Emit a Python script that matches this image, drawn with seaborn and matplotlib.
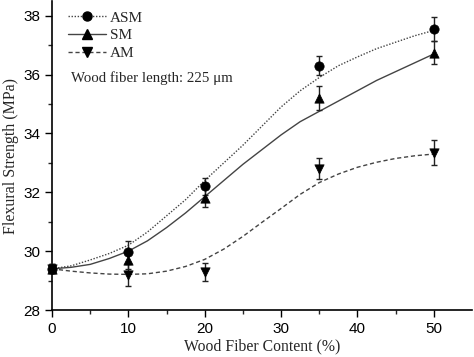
import numpy as np
import pandas as pd
import matplotlib
matplotlib.use("Agg")
import matplotlib.pyplot as plt
import seaborn as sns
from matplotlib.lines import Line2D

# ---- measured points ----
content = [0, 10, 20, 35, 50]
asm_vals = [29.4, 29.98, 32.2, 36.3, 37.55]
asm_err = [0.15, 0.35, 0.3, 0.32, 0.4]
sm_vals = [29.4, 29.7, 31.8, 35.2, 36.75]
sm_err = [0.15, 0.3, 0.3, 0.42, 0.38]
am_vals = [29.4, 29.2, 29.3, 32.8, 33.35]
am_err = [0.15, 0.38, 0.3, 0.35, 0.42]

# ---- fitted curves ----
curve_x = [0, 2.5, 5, 7.5, 10, 12.5, 15, 17.5, 20, 22.5, 25, 27.5, 30,
           32.5, 35, 37.5, 40, 42.5, 45, 47.5, 50]
asm_fit = [29.4, 29.5, 29.7, 29.92, 30.2, 30.65, 31.2, 31.75, 32.4, 33.0,
           33.6, 34.25, 34.9, 35.45, 35.9, 36.3, 36.6, 36.88, 37.1, 37.32, 37.5]
sm_fit = [29.4, 29.45, 29.55, 29.75, 30.0, 30.35, 30.8, 31.3, 31.85, 32.4,
          32.95, 33.45, 33.95, 34.4, 34.75, 35.1, 35.45, 35.8, 36.1, 36.4, 36.7]
am_fit = [29.4, 29.32, 29.26, 29.22, 29.21, 29.23, 29.32, 29.48, 29.72, 30.07,
          30.5, 30.98, 31.45, 31.93, 32.33, 32.62, 32.85, 33.02, 33.15, 33.24, 33.3]

series = ["ASM", "SM", "AM"]
x_ticks = [0, 10, 20, 30, 40, 50]
y_ticks = [28, 30, 32, 34, 36, 38]

sns.set_style("ticks")
plt.rcParams['font.family'] = ['Liberation Sans', 'DejaVu Sans']

fig = plt.figure(figsize=(4.74, 3.57), dpi=100)
ax = fig.add_axes([52/474, 1 - 310/357, 420/474, 309/357])

line_col = "#444444"
styles = {"ASM": (0, (1, 1.2)), "SM": "-", "AM": (0, (3, 2))}
markers = {"ASM": "o", "SM": "^", "AM": "v"}
fits = {"ASM": asm_fit, "SM": sm_fit, "AM": am_fit}
vals = {"ASM": asm_vals, "SM": sm_vals, "AM": am_vals}
errs = {"ASM": asm_err, "SM": sm_err, "AM": am_err}

for s in series:
    dfc = pd.DataFrame({"x": curve_x, "y": fits[s]})
    sns.lineplot(data=dfc, x="x", y="y", ax=ax, color=line_col,
                 linestyle=styles[s], linewidth=1.0, sort=False)

for s in series:
    ax.errorbar(content, vals[s], yerr=errs[s], fmt="none", ecolor="#222222",
                elinewidth=1.0, capsize=2.5, capthick=1.0, clip_on=False, zorder=3)
    dfp = pd.DataFrame({"x": content, "y": vals[s]})
    sns.scatterplot(data=dfp, x="x", y="y", ax=ax, marker=markers[s],
                    color="black", s=45, edgecolor="black", linewidth=0.5,
                    clip_on=False, zorder=4)

ax.set_xlim(0, 55)
ax.set_ylim(28, 38.5)
ax.set_xticks(x_ticks)
ax.set_yticks(y_ticks)
ax.set_xticks(np.arange(5, 55, 10), minor=True)
ax.set_yticks(np.arange(29, 39, 2), minor=True)
ax.tick_params(axis="both", which="major", direction="out", length=5, width=1,
               labelsize=11, colors="black")
ax.tick_params(axis="both", which="minor", direction="out", length=3, width=1)
for sp in ["top", "right"]:
    ax.spines[sp].set_visible(False)
for sp in ["left", "bottom"]:
    ax.spines[sp].set_linewidth(1.2)
    ax.spines[sp].set_color("black")

serif = ['Liberation Serif', 'DejaVu Serif']
ax.set_xlabel("Wood Fiber Content (%)", family=serif, fontsize=11.3, labelpad=2)
ax.set_ylabel("Flexural Strength (MPa)", family=serif, fontsize=11.5, labelpad=3)

handles = [Line2D([], [], color=line_col, linestyle=styles[s], linewidth=1.0,
                  marker=markers[s], markersize=6.5, markerfacecolor="black",
                  markeredgecolor="black") for s in series]
leg = ax.legend(handles, series, loc="upper left", bbox_to_anchor=(16/420, 1 - 10/309),
                frameon=False, handlelength=2.5, handletextpad=0.22,
                labelspacing=0.26, numpoints=1, borderaxespad=0, borderpad=0,
                prop={"family": serif, "size": 11})
ax.text((71 - 52) / 420, 1 - (78 - 1) / 309,
        "Wood fiber length: 225 \u03bcm", transform=ax.transAxes,
        family=serif, fontsize=10.7, va="center", ha="left")

fig.savefig("out.png", dpi=100)
